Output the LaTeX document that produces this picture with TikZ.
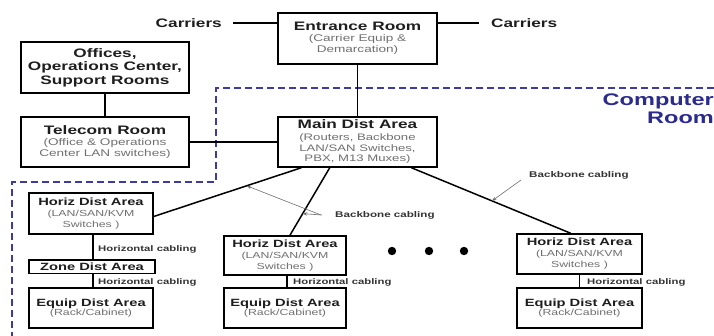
\documentclass[tikz,border=0pt]{standalone}
\usepackage{fontspec}
\setmainfont[FakeStretch=1.4]{Liberation Sans}
\usetikzlibrary{calc,arrows.meta}
\definecolor{ttl}{HTML}{1E1E1E}
\definecolor{subg}{HTML}{707070}
\definecolor{crc}{HTML}{2B2B8F}
\definecolor{dashc}{HTML}{3C3CA0}
\definecolor{lblc}{HTML}{333333}
\definecolor{ptrc}{HTML}{707070}
\newcommand{\tA}{\fontsize{12.3}{13}\selectfont\bfseries\color{ttl}}
\newcommand{\tB}{\fontsize{10.5}{11}\selectfont\bfseries\color{ttl}}
\begin{document}
\begin{tikzpicture}[x=1pt,y=-1pt,
  box/.style={draw=black, line width=1.5pt, fill=white, inner sep=0pt, align=center, text=subg},
  topbox/.style={box, font=\fontsize{9.7}{10.8}\selectfont},
  lowbox/.style={box, font=\fontsize{8.8}{11}\selectfont},
  wire/.style={line width=1.5pt, draw=black},
  cablbl/.style={font=\fontsize{8.1}{9}\selectfont\bfseries, text=lblc, inner sep=0pt, anchor=west},
  carlbl/.style={font=\tA, inner sep=0pt},
  pointer/.style={draw=ptrc, line width=0.6pt, -{Stealth[length=4.5pt,width=3.5pt]}},
]
\useasboundingbox[fill=white] (0,0) rectangle (714,336);

% computer room boundary
\draw[dashc, line width=1.4pt, dash pattern=on 7pt off 4pt] (714,88) -- (216,88) -- (216,182) -- (12,182) -- (12,340);
\node[anchor=north east, align=right, inner sep=0pt, text=crc,
      font=\fontsize{16.8}{18}\selectfont\bfseries] (crlbl) at (714,94) {Computer\\Room};

% boxes
\node[topbox, minimum width=159pt, minimum height=51pt] (entr) at (357.5,38.5)
  {{\tA Entrance Room}\\[0.5pt](Carrier Equip \&\\Demarcation)};
\node[box, font=\fontsize{12.3}{13.5}\selectfont\bfseries, text=ttl, minimum width=168pt, minimum height=51pt] (offices) at (105,67.5)
  {Offices,\\Operations Center,\\Support Rooms};
\node[topbox, minimum width=168pt, minimum height=50pt] (telecom) at (105,142)
  {{\tA Telecom Room}\\[1pt](Office \& Operations\\Center LAN switches)};
\node[topbox, font=\fontsize{9.4}{10.5}\selectfont, minimum width=159pt, minimum height=50pt] (main) at (357.5,142)
  {{\tA Main Dist Area}\\[1.5pt](Routers, Backbone\\LAN/SAN Switches,\\PBX, M13 Muxes)};

\node[lowbox, minimum width=124pt, minimum height=41pt] (hda1) at (91,213.5)
  {{\tB Horiz Dist Area}\\(LAN/SAN/KVM\\Switches )};
\node[box, minimum width=126pt, minimum height=13.5pt] (zone) at (92,266.8)
  {\tB Zone Dist Area};
\node[lowbox, minimum width=124pt, minimum height=40pt] (eda1) at (91,308)
  {{\tB Equip Dist Area}\\[-1.5pt](Rack/Cabinet)};

\node[lowbox, minimum width=122pt, minimum height=39pt] (hda2) at (285,255.5)
  {{\tB Horiz Dist Area}\\(LAN/SAN/KVM\\Switches )};
\node[lowbox, minimum width=122pt, minimum height=40pt] (eda2) at (285,308)
  {{\tB Equip Dist Area}\\[-1.5pt](Rack/Cabinet)};

\node[lowbox, minimum width=125pt, minimum height=40pt] (hda3) at (579.5,254)
  {{\tB Horiz Dist Area}\\(LAN/SAN/KVM\\Switches )};
\node[lowbox, minimum width=125pt, minimum height=40pt] (eda3) at (579.5,308)
  {{\tB Equip Dist Area}\\[-1.5pt](Rack/Cabinet)};

% carriers
\node[carlbl, anchor=east] (carL) at (222,23) {Carriers};
\node[carlbl, anchor=west] (carR) at (491,23) {Carriers};
\draw[wire, shorten <=11pt] (carL.east) -- (carL.east -| entr.west);
\draw[wire, shorten <=12pt] (carR.west) -- (carR.west -| entr.east);

% upper connectors
\draw[wire] (offices.south) -- (telecom.north);
\draw[wire] (telecom.east) -- (main.west);
\draw[wire] (entr.south) -- (main.north);

% backbone connectors
\coordinate (m1) at ($(main.south west)!0.15!(main.south east)$);
\coordinate (m2) at ($(main.south west)!0.327!(main.south east)$);
\coordinate (m3) at ($(main.south west)!0.836!(main.south east)$);
\coordinate (h1) at ($(hda1.north east)!0.57!(hda1.south east)$);
\coordinate (h2) at ($(hda2.north west)!0.54!(hda2.north east)$);
\coordinate (h3) at ($(hda3.north west)!0.43!(hda3.north east)$);
\draw[wire] (m1) -- (h1);
\draw[wire] (m2) -- (h2);
\draw[wire] (m3) -- (h3);

% horizontal cabling
\draw[wire] ([xshift=2pt]hda1.south) -- ([xshift=2pt]hda1.south |- zone.north);
\draw[wire] ([xshift=2pt]hda1.south |- zone.south) -- ([xshift=2pt]eda1.north);
\draw[wire] ([xshift=2pt]hda2.south) -- ([xshift=2pt]eda2.north);
\draw[wire] (hda3.south) -- (eda3.north);
\node[cablbl] (hc1) at (98,249) {Horizontal cabling};
\node[cablbl] (hc2) at (98,282) {Horizontal cabling};
\node[cablbl] (hc3) at (293,282) {Horizontal cabling};
\node[cablbl] (hc4) at (587,282) {Horizontal cabling};

% backbone labels and pointers
\node[cablbl, font=\fontsize{8.3}{9}\selectfont\bfseries] (bbM) at (335,215) {Backbone cabling};
\node[cablbl, font=\fontsize{8.3}{9}\selectfont\bfseries] (bbR) at (529,175) {Backbone cabling};
\coordinate (t1) at ($(h1)!0.63!(m1)$);
\coordinate (t2) at ($(m2)!0.68!(h2)$);
\coordinate (t3) at ($(m3)!0.506!(h3)$);
\draw[pointer] ([xshift=-14pt]bbM.west) -- (t1);
\draw[pointer] ([xshift=-13pt]bbM.west) -- (t2);
\draw[pointer] ([xshift=-8pt,yshift=-5pt]bbR.west) -- (t3);

% ellipsis dots
\fill[black] (392,251) circle (4.2pt) (429,251) circle (4.2pt) (464,251) circle (4.2pt);
\end{tikzpicture}
\end{document}
